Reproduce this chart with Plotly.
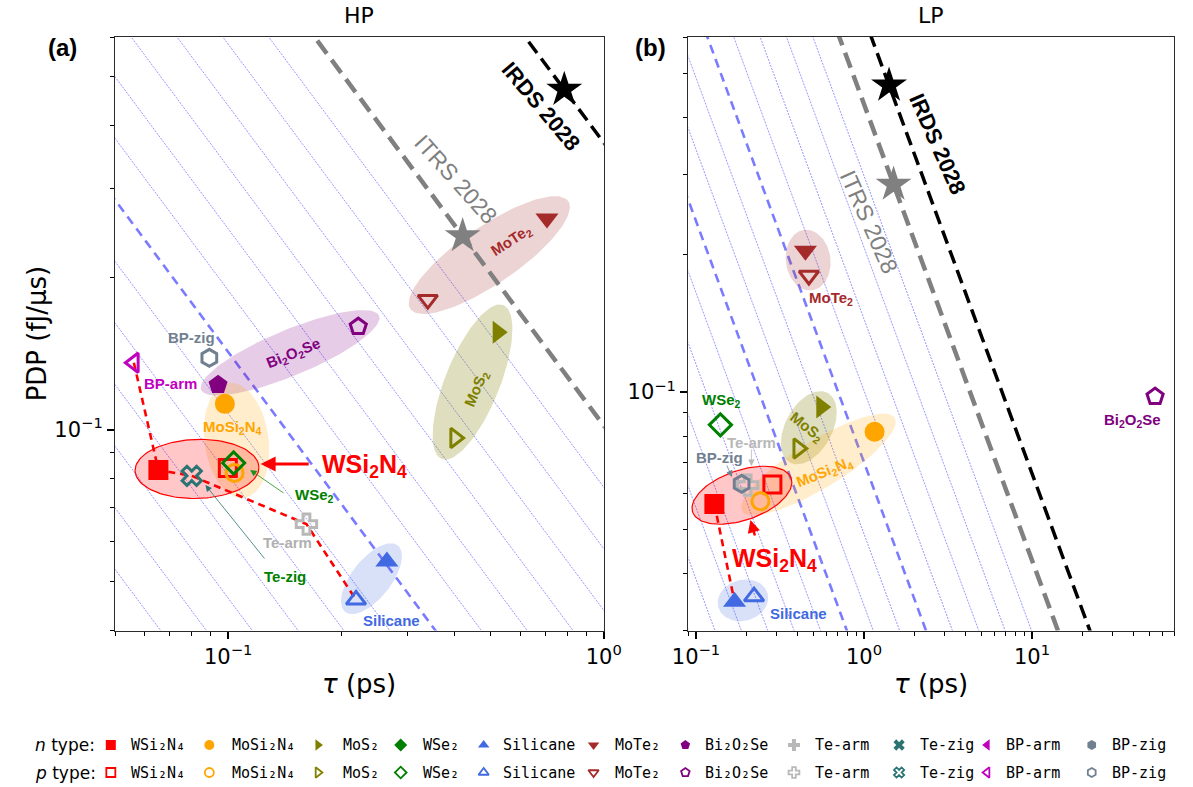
import numpy as np
import plotly.graph_objects as go

W, H = 1193, 787

# ---------------- data ----------------
materials = ["WSi2N4", "MoSi2N4", "MoS2", "WSe2", "Silicane", "MoTe2",
             "Bi2O2Se", "Te-arm", "Te-zig", "BP-arm", "BP-zig"]
legend_names = ["WSi₂N₄", "MoSi₂N₄", "MoS₂", "WSe₂", "Silicane", "MoTe₂",
                "Bi₂O₂Se", "Te-arm", "Te-zig", "BP-arm", "BP-zig"]
label_html = ["WSi<sub>2</sub>N<sub>4</sub>", "MoSi<sub>2</sub>N<sub>4</sub>", "MoS<sub>2</sub>",
              "WSe<sub>2</sub>", "Silicane", "MoTe<sub>2</sub>", "Bi<sub>2</sub>O<sub>2</sub>Se",
              "Te-arm", "Te-zig", "BP-arm", "BP-zig"]

# HP panel (tau in ps, PDP in fJ/us)
hp_tau_n = [0.0652, 0.098, 0.522, None, 0.2646, 0.706, 0.094, None, None, None, None]
hp_pdp_n = [0.0832, 0.1125, 0.156, None, 0.0548, 0.262, 0.1227, None, None, None, None]
hp_tau_p = [0.0998, 0.104, 0.402, 0.1034, 0.219, 0.340, 0.222, 0.1616, 0.080, 0.0561, 0.0891]
hp_pdp_p = [0.084, 0.0821, 0.0963, 0.0859, 0.046, 0.181, 0.160, 0.065, 0.081, 0.1357, 0.1388]

# LP panel
lp_tau_n = [0.1287, 1.156, 0.557, None, 0.1697, 0.448, None, None, None, None, None]
lp_pdp_n = [0.0568, 0.0818, 0.0927, None, 0.0347, 0.204, None, None, None, None, None]
lp_tau_p = [0.285, 0.242, 0.406, 0.1397, 0.2216, 0.470, 54.0, 0.203, None, None, 0.187]
lp_pdp_p = [0.0627, 0.0576, 0.0752, 0.0847, 0.0356, 0.180, 0.0977, 0.0625, None, None, 0.0629]

# roadmap targets (tau, PDP)
roadmaps = ["IRDS 2028", "ITRS 2028"]
hp_road_tau = [0.785, 0.421]
hp_road_pdp = [0.472, 0.242]
lp_road_tau = [1.41, 1.50]
lp_road_pdp = [0.470, 0.285]

# benchmark front (red dashed)
hp_front = [("BP-arm", "p"), ("WSi2N4", "n"), ("Te-zig", "p"), ("Te-arm", "p"), ("Silicane", "p")]
lp_front = [("WSi2N4", "n"), ("Silicane", "n")]

# ---------------- styles ----------------
colors = ["#ff0000", "#ffa500", "#808000", "#008000", "#4169e1", "#a52a2a",
          "#800080", "#b8b8b8", "#2b7474", "#bf00bf", "#708090"]
symbols = ["square", "circle", "triangle-right", "diamond", "triangle-up", "triangle-down",
           "pentagon", "cross", "x", "triangle-left", "hexagon"]
fill_rgba = {"WSi2N4": "rgba(255,0,0,0.22)", "MoSi2N4": "rgba(255,165,0,0.2)",
             "MoS2": "rgba(128,128,0,0.25)", "Bi2O2Se": "rgba(128,0,128,0.2)",
             "MoTe2": "rgba(165,42,42,0.2)", "Silicane": "rgba(65,105,225,0.2)"}

PANELS = {
    "HP": dict(x0=102, x1=605, y0=37, y1=630.5, xr=(0.05, 1.0), yr=(0.04, 0.6),
               xa="x", ya="y", step=0.122, kmin=-14, dashed=[-7],
               tau_n=hp_tau_n, pdp_n=hp_pdp_n, tau_p=hp_tau_p, pdp_p=hp_pdp_p,
               road_tau=hp_road_tau, road_pdp=hp_road_pdp, front=hp_front),
    "LP": dict(x0=692, x1=1192, y0=37, y1=630.5, xr=(0.09, 70.0), yr=(0.03, 0.6),
               xa="x2", ya="y2", step=0.157, kmin=-15, dashed=[-5, -8],
               tau_n=lp_tau_n, pdp_n=lp_pdp_n, tau_p=lp_tau_p, pdp_p=lp_pdp_p,
               road_tau=lp_road_tau, road_pdp=lp_road_pdp, front=lp_front),
}

# ellipse styling: (material, pad along major px, half-minor px, dx, dy, edge)
ell_hp = [("MoTe2", 24, 29, 2, -4, False), ("MoS2", 26, 28, -4, -3, False),
          ("Bi2O2Se", 21, 23, 2, -3, False), ("MoSi2N4", 23, 33, 7, 2, False),
          ("Silicane", 18, 20, 0, -2, False), ("WSi2N4", 28, 29.5, 4, 0, True)]
ell_lp = [("MoTe2", 18, 23, 1, -3, False), ("MoS2", 16, 24, -1, 0, False),
          ("MoSi2N4", 23, 24, 1, -2, False), ("Silicane", 16, 20.5, -1.4, 1.2, False),
          ("WSi2N4", 22, 25, -1.5, 1, True)]


def d2p(P, x, y):
    lx0, lx1 = np.log10(P["xr"][0]), np.log10(P["xr"][1])
    ly0, ly1 = np.log10(P["yr"][0]), np.log10(P["yr"][1])
    px = P["x0"] + (np.log10(x) - lx0) / (lx1 - lx0) * (P["x1"] - P["x0"])
    py = P["y1"] - (np.log10(y) - ly0) / (ly1 - ly0) * (P["y1"] - P["y0"])
    return px, py


def p2d(P, px, py):
    lx0, lx1 = np.log10(P["xr"][0]), np.log10(P["xr"][1])
    ly0, ly1 = np.log10(P["yr"][0]), np.log10(P["yr"][1])
    lx = lx0 + (px - P["x0"]) / (P["x1"] - P["x0"]) * (lx1 - lx0)
    ly = ly0 + (P["y1"] - py) / (P["y1"] - P["y0"]) * (ly1 - ly0)
    return 10 ** lx, 10 ** ly


fig = go.Figure()

for name, P in PANELS.items():
    xa, ya = P["xa"], P["ya"]
    xlo, xhi = P["xr"]
    xs = np.array([xlo * 0.5, xhi * 2])
    c_itrs = P["road_tau"][1] * P["road_pdp"][1]
    c_irds = P["road_tau"][0] * P["road_pdp"][0]
    # family of constant tau*PDP lines
    for k in range(P["kmin"], 0):
        c = c_itrs * 10 ** (k * P["step"])
        if k in P["dashed"]:
            line = dict(color="rgba(100,100,255,0.85)", width=2.6, dash="9px,6px")
        else:
            line = dict(color="rgba(60,60,255,0.6)", width=0.9, dash="2px,1.2px")
        fig.add_trace(go.Scatter(x=xs, y=c / xs, mode="lines", line=line, xaxis=xa, yaxis=ya,
                                 hoverinfo="skip", showlegend=False))
    # ellipses
    ells = ell_hp if name == "HP" else ell_lp
    for mat, pad, b, dx, dy, edge in ells:
        i = materials.index(mat)
        p1 = np.array(d2p(P, P["tau_n"][i], P["pdp_n"][i]))
        p2 = np.array(d2p(P, P["tau_p"][i], P["pdp_p"][i]))
        ctr = (p1 + p2) / 2 + np.array([dx, dy])
        u = (p2 - p1) / np.linalg.norm(p2 - p1)
        nrm = np.array([-u[1], u[0]])
        a = np.linalg.norm(p2 - p1) / 2 + pad
        t = np.linspace(0, 2 * np.pi, 120)
        pts = ctr[:, None] + a * np.cos(t) * u[:, None] + b * np.sin(t) * nrm[:, None]
        ex, ey = p2d(P, pts[0], pts[1])
        fig.add_trace(go.Scatter(x=ex, y=ey, mode="lines", fill="toself",
                                 fillcolor=fill_rgba[mat],
                                 line=dict(color=colors[i] if edge else "rgba(0,0,0,0)",
                                           width=1.2 if edge else 0),
                                 xaxis=xa, yaxis=ya, hoverinfo="skip", showlegend=False))
    # roadmap lines
    fig.add_trace(go.Scatter(x=xs, y=c_itrs / xs, mode="lines",
                             line=dict(color="#808080", width=4.5, dash="16px,8px"),
                             xaxis=xa, yaxis=ya, hoverinfo="skip", showlegend=False))
    fig.add_trace(go.Scatter(x=xs, y=c_irds / xs, mode="lines",
                             line=dict(color="black", width=3.5, dash="14px,7px"),
                             xaxis=xa, yaxis=ya, hoverinfo="skip", showlegend=False))
    # red dashed front
    fx, fy = [], []
    for mat, typ in P["front"]:
        i = materials.index(mat)
        fx.append(P["tau_" + typ][i])
        fy.append(P["pdp_" + typ][i])
    fig.add_trace(go.Scatter(x=fx, y=fy, mode="lines",
                             line=dict(color="red", width=2.6, dash="7px,5px"),
                             xaxis=xa, yaxis=ya, hoverinfo="skip", showlegend=False))
    # markers
    for i, mat in enumerate(materials):
        if P["tau_p"][i] is not None:
            fig.add_trace(go.Scatter(x=[P["tau_p"][i]], y=[P["pdp_p"][i]], mode="markers",
                                     marker=dict(symbol=symbols[i] + "-open", size=17, color=colors[i],
                                                 line=dict(color=colors[i], width=3)),
                                     xaxis=xa, yaxis=ya, showlegend=False, name=mat + " p"))
        if P["tau_n"][i] is not None:
            fig.add_trace(go.Scatter(x=[P["tau_n"][i]], y=[P["pdp_n"][i]], mode="markers",
                                     marker=dict(symbol=symbols[i], size=20, color=colors[i],
                                                 line=dict(width=0)),
                                     xaxis=xa, yaxis=ya, showlegend=False, name=mat + " n"))
    # stars
    fig.add_trace(go.Scatter(x=P["road_tau"], y=P["road_pdp"], mode="markers",
                             marker=dict(symbol="star", size=27, color=["black", "#808080"],
                                         line=dict(width=0)),
                             xaxis=xa, yaxis=ya, showlegend=False, name="roadmap"))

# ---------------- legend (pixel overlay axis) ----------------
leg_marker_x = [97.6, 199, 310.8, 396, 481.4, 594.5, 689, 800.8, 909, 999.6, 1107.3]
leg_text_x = [116.7, 220, 334.9, 417, 499.4, 615, 707.3, 820.8, 928.5, 1016.9, 1126.5]
leg_row_y = [745, 772.5]
for i in range(len(materials)):
    fig.add_trace(go.Scatter(x=[leg_marker_x[i]], y=[leg_row_y[0]], mode="markers",
                             marker=dict(symbol=symbols[i], size=10, color=colors[i], line=dict(width=0)),
                             xaxis="x3", yaxis="y3", showlegend=False, hoverinfo="skip"))
    fig.add_trace(go.Scatter(x=[leg_marker_x[i]], y=[leg_row_y[1]], mode="markers",
                             marker=dict(symbol=symbols[i] + "-open", size=9, color=colors[i],
                                         line=dict(color=colors[i], width=1.8)),
                             xaxis="x3", yaxis="y3", showlegend=False, hoverinfo="skip"))

ann = []
MONO = "DejaVu Sans Mono"
SANS = "DejaVu Sans"
ARIAL = "Liberation Sans"
for r, lab in enumerate(["<i>n</i> type:", "<i>p</i> type:"]):
    ann.append(dict(x=18, y=leg_row_y[r], xref="x3", yref="y3", text=lab, showarrow=False,
                    xanchor="left", yanchor="middle", font=dict(family=SANS, size=17, color="black")))
    for i in range(len(materials)):
        ann.append(dict(x=leg_text_x[i], y=leg_row_y[r], xref="x3", yref="y3", text=legend_names[i],
                        showarrow=False, xanchor="left", yanchor="middle",
                        font=dict(family=MONO, size=15, color="black")))


def label(x, y, text, color, size=15, angle=0, bold=True, family=ARIAL):
    ann.append(dict(x=x, y=y, xref="x3", yref="y3", text=("<b>%s</b>" % text) if bold else text,
                    showarrow=False, textangle=angle, xanchor="center", yanchor="middle",
                    font=dict(family=family, size=size, color=color)))


def arrow(hx, hy, tx, ty, color, width, size=1.0, head=2):
    ann.append(dict(x=hx, y=hy, ax=tx, ay=ty, xref="x3", yref="y3", axref="x3", ayref="y3",
                    text="", showarrow=True, arrowhead=head, arrowsize=size, arrowwidth=width,
                    arrowcolor=color, standoff=0, startstandoff=0))


C = dict(zip(materials, colors))
# panel (a) labels
label(510, 240, label_html[5], C["MoTe2"], angle=-33)
label(474, 388, label_html[2], C["MoS2"], angle=-67)
label(286, 353, label_html[6], C["Bi2O2Se"], angle=-22)
label(181, 337, "BP-zig", C["BP-zig"])
label(159, 383, "BP-arm", C["BP-arm"])
label(223, 427, label_html[1], C["MoSi2N4"])
label(307, 495, label_html[3], C["WSe2"])
label(279, 542, "Te-arm", "#b0b0b0")
label(277, 576, "Te-zig", C["WSe2"])
label(386, 620, "Silicane", C["Silicane"])
label(359, 466, label_html[0], "red", size=25)
label(540.5, 106.5, "IRDS 2028", "black", size=22, angle=50)
label(452.5, 179, "ITRS 2028", "#808080", size=23, angle=48, bold=False)
arrow(251.8, 464, 302.8, 464, "red", 3, size=1.0)
arrow(241, 470, 277, 494, "#1f8f1f", 0.8, size=1.6)
arrow(195, 485, 257, 560, "#2b7474", 0.8, size=1.6)
# panel (b) labels
label(839, 298, label_html[5], C["MoTe2"])
label(726, 400, label_html[3], C["WSe2"])
label(757, 442, "Te-arm", "#b8b8b8")
label(724, 457, "BP-zig", C["BP-zig"])
label(814, 427, label_html[2], C["MoS2"], angle=38)
label(832, 472, label_html[1], C["MoSi2N4"], angle=-22)
label(805, 613, "Silicane", C["Silicane"])
label(1149, 420, label_html[6], C["Bi2O2Se"])
label(781, 560, label_html[0], "red", size=25)
label(949, 144, "IRDS 2028", "black", size=22, angle=66)
label(878, 222, "ITRS 2028", "#808080", size=23, angle=66, bold=False)
arrow(756, 520, 761, 537, "red", 2.5, size=1.0)
arrow(757, 466, 757, 448, "#b8b8b8", 0.8, size=1.6)
arrow(737, 477, 731, 464, "#708090", 0.8, size=1.6)

# titles, panel tags, axis titles
label(353.5, 15, "HP", "black", size=22, bold=False, family=SANS)
label(942, 15, "LP", "black", size=22, bold=False, family=SANS)
label(48, 47, "(a)", "black", size=24)
label(653, 47, "(b)", "black", size=24)
label(353.5, 684, "<i>τ</i> (ps)", "black", size=26, bold=False, family=SANS)
label(942, 684, "<i>τ</i> (ps)", "black", size=26, bold=False, family=SANS)
label(22, 333, "PDP (fJ/μs)", "black", size=26, angle=-90, bold=False, family=SANS)


def axis_common(P, which):
    lo, hi = P["xr"] if which == "x" else P["yr"]
    decades = [10.0 ** e for e in range(-3, 4)]
    major = [d for d in decades if lo * 0.999 <= d <= hi * 1.001]
    minor = []
    for d in decades:
        for m in range(2, 10):
            v = d * m
            if lo * 0.999 <= v <= hi * 1.001:
                minor.append(v)
    texts = []
    for d in major:
        e = int(round(np.log10(d)))
        texts.append("10<sup>%s</sup>" % (str(e).replace("-", "−")))
    return dict(type="log", range=[np.log10(lo), np.log10(hi)], tickmode="array",
                tickvals=major, ticktext=texts, ticks="outside", ticklen=7, tickwidth=1.5,
                tickcolor="black", showgrid=False, zeroline=False, showline=True, mirror=True,
                linecolor="#2b2b2b", linewidth=1.3,
                tickfont=dict(family=SANS, size=21, color="black"),
                minor=dict(tickmode="array", tickvals=minor, ticks="outside", ticklen=4,
                           tickwidth=1.2, tickcolor="black", showgrid=False))


PA, PB = PANELS["HP"], PANELS["LP"]
ydom = [1 - PA["y1"] / H, 1 - PA["y0"] / H]
fig.update_layout(
    width=W, height=H, margin=dict(l=0, r=0, t=0, b=0),
    paper_bgcolor="white", plot_bgcolor="rgba(0,0,0,0)", showlegend=False,
    xaxis=dict(domain=[PA["x0"] / W, PA["x1"] / W], anchor="y", **axis_common(PA, "x")),
    yaxis=dict(domain=ydom, anchor="x", **axis_common(PA, "y")),
    xaxis2=dict(domain=[PB["x0"] / W, PB["x1"] / W], anchor="y2", **axis_common(PB, "x")),
    yaxis2=dict(domain=ydom, anchor="x2", **axis_common(PB, "y")),
    xaxis3=dict(domain=[0, 1], range=[0, W], visible=False, anchor="y3", fixedrange=True),
    yaxis3=dict(domain=[0, 1], range=[H, 0], visible=False, anchor="x3", fixedrange=True),
    annotations=ann,
)

fig.write_html("out.html")
